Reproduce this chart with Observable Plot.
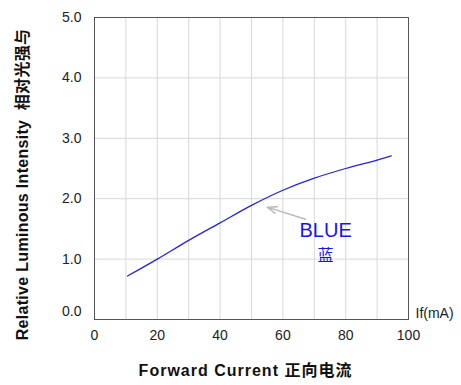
<!DOCTYPE html>
<html>
<head>
<meta charset="utf-8">
<script src="https://cdn.jsdelivr.net/npm/d3@7"></script>
<script src="https://cdn.jsdelivr.net/npm/@observablehq/plot@0.6"></script>
<style>
  body { margin: 0; background: #fff; }
</style>
</head>
<body>
<div id="chart"></div>
<script>
// Data
const current = [10.5, 20, 30, 40, 50, 60, 70, 80, 90, 94.5];      // If (mA)
const intensity = [0.72, 1.0, 1.31, 1.60, 1.89, 2.14, 2.34, 2.50, 2.64, 2.71];
const xTicks = [0, 20, 40, 60, 80, 100];
const xGrid = [10, 20, 30, 40, 50, 60, 70, 80, 90];
const yTicks = [1, 2, 3, 4, 5];
const yGrid = [1, 2, 3, 4];
const yTickZero = [0];
const arrowFrom = [67.2, 1.66];
const arrowTo = [55.0, 1.86];
const seriesLabel = {x: 73.6, y: 1.47, text: "BLUE"};
const seriesLabelCn = {x: 73.6, y: 1.06, text: "蓝"};
const xTitle = "Forward Current 正向电流";
const yTitle = "Relative Luminous Intensity  相对光强与";
const unitLabel = "If(mA)";

const data = current.map((c, i) => ({c, v: intensity[i]}));

const chart = Plot.plot({
  width: 461,
  height: 385,
  marginLeft: 94,
  marginRight: 53,
  marginTop: 17,
  marginBottom: 66,
  style: {fontFamily: "'Liberation Sans', Arial, 'Noto Sans CJK SC', sans-serif", fontSize: "14px", color: "#222", background: "#fff"},
  x: {domain: [0, 100]},
  y: {domain: [0, 5]},
  marks: [
    Plot.gridX(xGrid, {stroke: "#d8d8d8", strokeOpacity: 1}),
    Plot.gridY(yGrid, {stroke: "#d8d8d8", strokeOpacity: 1}),
    Plot.frame({stroke: "#555"}),
    Plot.axisX(xTicks, {tickSize: 0, tickPadding: 11, label: null, fill: "#222", tickFormat: d => d}),
    Plot.axisY(yTicks, {tickSize: 0, tickPadding: 13, label: null, fill: "#222", tickFormat: d => d.toFixed(1)}),
    Plot.axisY(yTickZero, {tickSize: 0, tickPadding: 13, label: null, fill: "#222", dy: -8, tickFormat: d => d.toFixed(1)}),
    Plot.line(data, {x: "c", y: "v", stroke: "#2222ee", strokeWidth: 1.3, curve: "catmull-rom"}),
    Plot.arrow([{x1: arrowFrom[0], y1: arrowFrom[1], x2: arrowTo[0], y2: arrowTo[1]}],
      {x1: "x1", y1: "y1", x2: "x2", y2: "y2", stroke: "#b8b8b8", strokeWidth: 1.5, headLength: 10, headAngle: 40}),
    Plot.text([seriesLabel], {x: "x", y: "y", text: "text", fill: "#1515f0", fontSize: 20}),
    Plot.text([seriesLabelCn], {x: "x", y: "y", text: "text", fill: "#1515f0", fontSize: 16}),
    Plot.text([{x: 100, y: 0}], {x: "x", y: "y", text: () => unitLabel, textAnchor: "start", dx: 7, dy: -6, fill: "#222"}),
    Plot.text([xTitle], {frameAnchor: "bottom", dy: 56, dx: -6, fontWeight: "bold", fontSize: 16, fill: "#111"}),
    Plot.text([yTitle], {frameAnchor: "left", textAnchor: "middle", dx: -72, dy: 16, rotate: -90, fontWeight: "bold", fontSize: 16, fill: "#111"})
  ]
});
d3.select(chart).selectAll("text").each(function() {
  const t = this.textContent;
  if (t === xTitle) this.style.letterSpacing = "1px";
  if (t === yTitle) this.style.letterSpacing = "0.3px";
});
document.getElementById("chart").appendChild(chart);
</script>
</body>
</html>
